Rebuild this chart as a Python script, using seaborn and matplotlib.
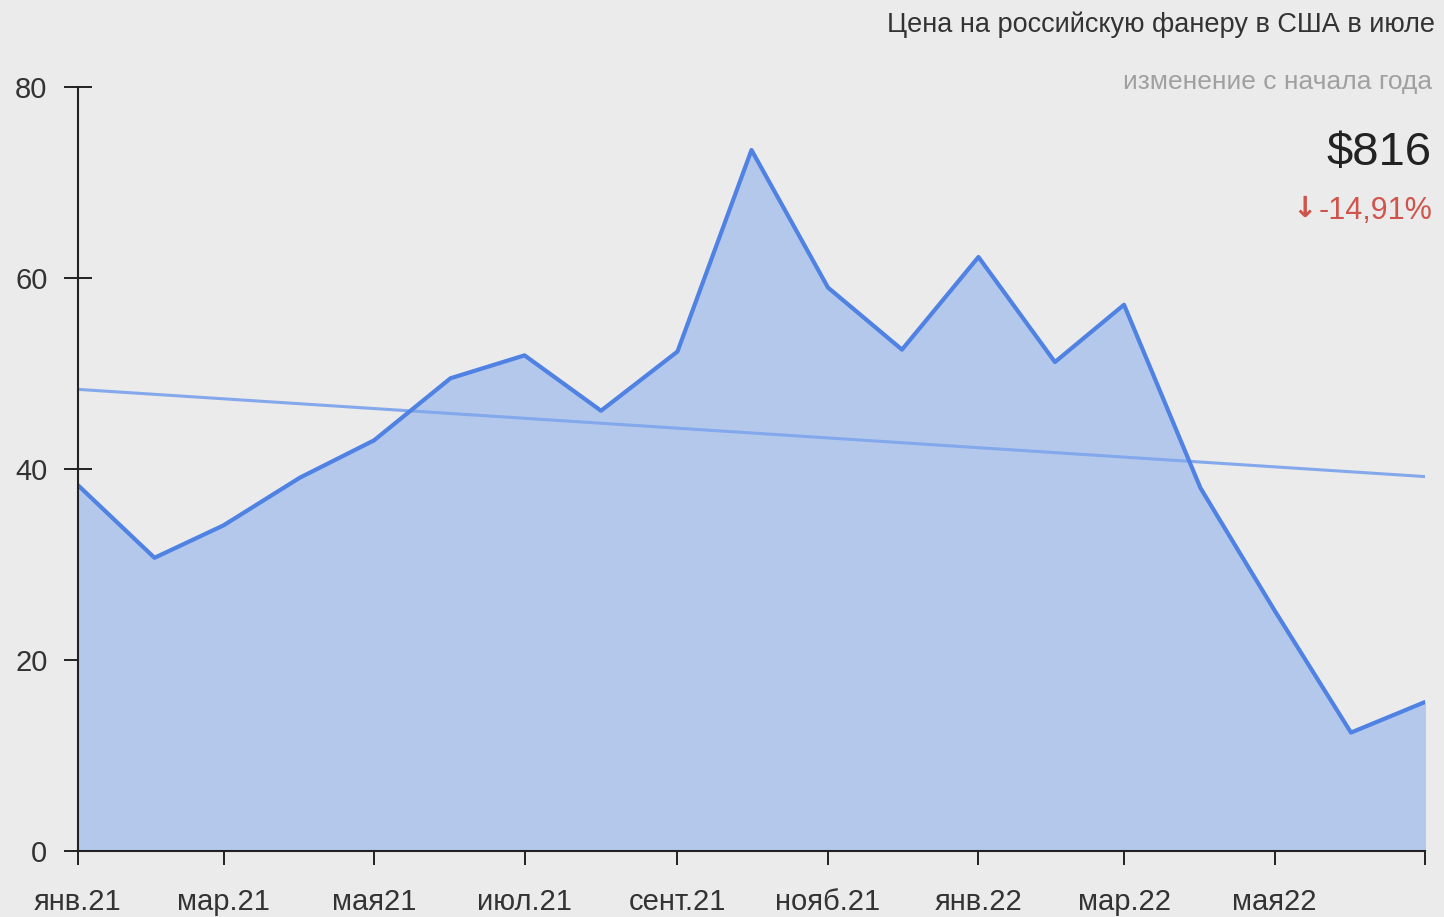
import numpy as np
import pandas as pd
import matplotlib
matplotlib.use('Agg')
import matplotlib.pyplot as plt
import matplotlib.dates as mdates
import seaborn as sns

# monthly values, Jan 2021 .. Jul 2022
months = pd.date_range('2021-01-01', '2022-07-01', freq='MS')
values = [38.3, 30.7, 34.1, 39.1, 43.0, 49.5, 51.9, 46.1, 52.3, 73.4,
          59.0, 52.5, 62.2, 51.2, 57.2, 38.0, 25.2, 12.4, 15.6]
tick_labels = ['янв.21', 'мар.21', 'мая21', 'июл.21', 'сент.21', 'нояб.21',
               'янв.22', 'мар.22', 'мая22', '']
title = 'Цена на российскую фанеру в США в июле'
subtitle = 'изменение с начала года'
price = '$816'
change = '-14,91%'

df = pd.DataFrame({'month': months, 'value': values})

sns.set_style('white')
plt.rcParams['font.family'] = ['Liberation Sans', 'DejaVu Sans']
bg = '#ebebeb'

fig, ax = plt.subplots(figsize=(14.44, 9.17), dpi=100)
fig.patch.set_facecolor(bg)
ax.set_facecolor(bg)
fig.subplots_adjust(left=78/1444, right=1425/1444, top=1-87/917, bottom=1-851/917)

ax.fill_between(df.month, df.value, 0, color='#b4c8ec', zorder=1)
sns.lineplot(data=df, x='month', y='value', ax=ax, color='#4f82e3', linewidth=3, zorder=3)

# linear trend
xnum = mdates.date2num(df.month)
k, b = np.polyfit(xnum, df.value, 1)
ax.plot(df.month, k * xnum + b, color='#84a8ec', linewidth=2.2, zorder=2)

ax.set_xlim(months[0], months[-1])
ax.set_ylim(0, 80)
ax.set_yticks([0, 20, 40, 60, 80])
ax.set_xticks(months[::2])
ax.set_xticklabels(tick_labels)
ax.set_xlabel('')
ax.set_ylabel('')
for s in ['top', 'right']:
    ax.spines[s].set_visible(False)
for s in ['left', 'bottom']:
    ax.spines[s].set_color('#222222')
    ax.spines[s].set_linewidth(1.5)
    ax.spines[s].set_zorder(5)
ax.tick_params(axis='both', which='major', bottom=True, left=True, direction='inout',
               length=20, width=1.4, color='#222222', labelsize=21, labelcolor='#333333')
ax.tick_params(axis='y', pad=12)
ax.tick_params(axis='x', pad=17)

fig.text(1435/1444, 1-25/917, title, ha='right', va='center', fontsize=19.5,
         color='#333333')
fig.text(1432/1444, 1-82/917, subtitle, ha='right', va='center', fontsize=19,
         color='#a0a0a0')
fig.text(1432/1444, 1-153/917, price, ha='right', va='center', fontsize=34,
         color='#222222')
t = fig.text(1432/1444, 1-211/917, change, ha='right', va='center', fontsize=22,
             color='#d0544c')
fig.canvas.draw()
x0 = t.get_window_extent().x0
fig.text((x0 - 1) / 1444, 1-209/917, '\u2193', ha='right', va='center', fontsize=21,
         color='#d0544c', family='DejaVu Sans', fontweight='bold')

fig.savefig('out.png', dpi=100, facecolor=bg)
